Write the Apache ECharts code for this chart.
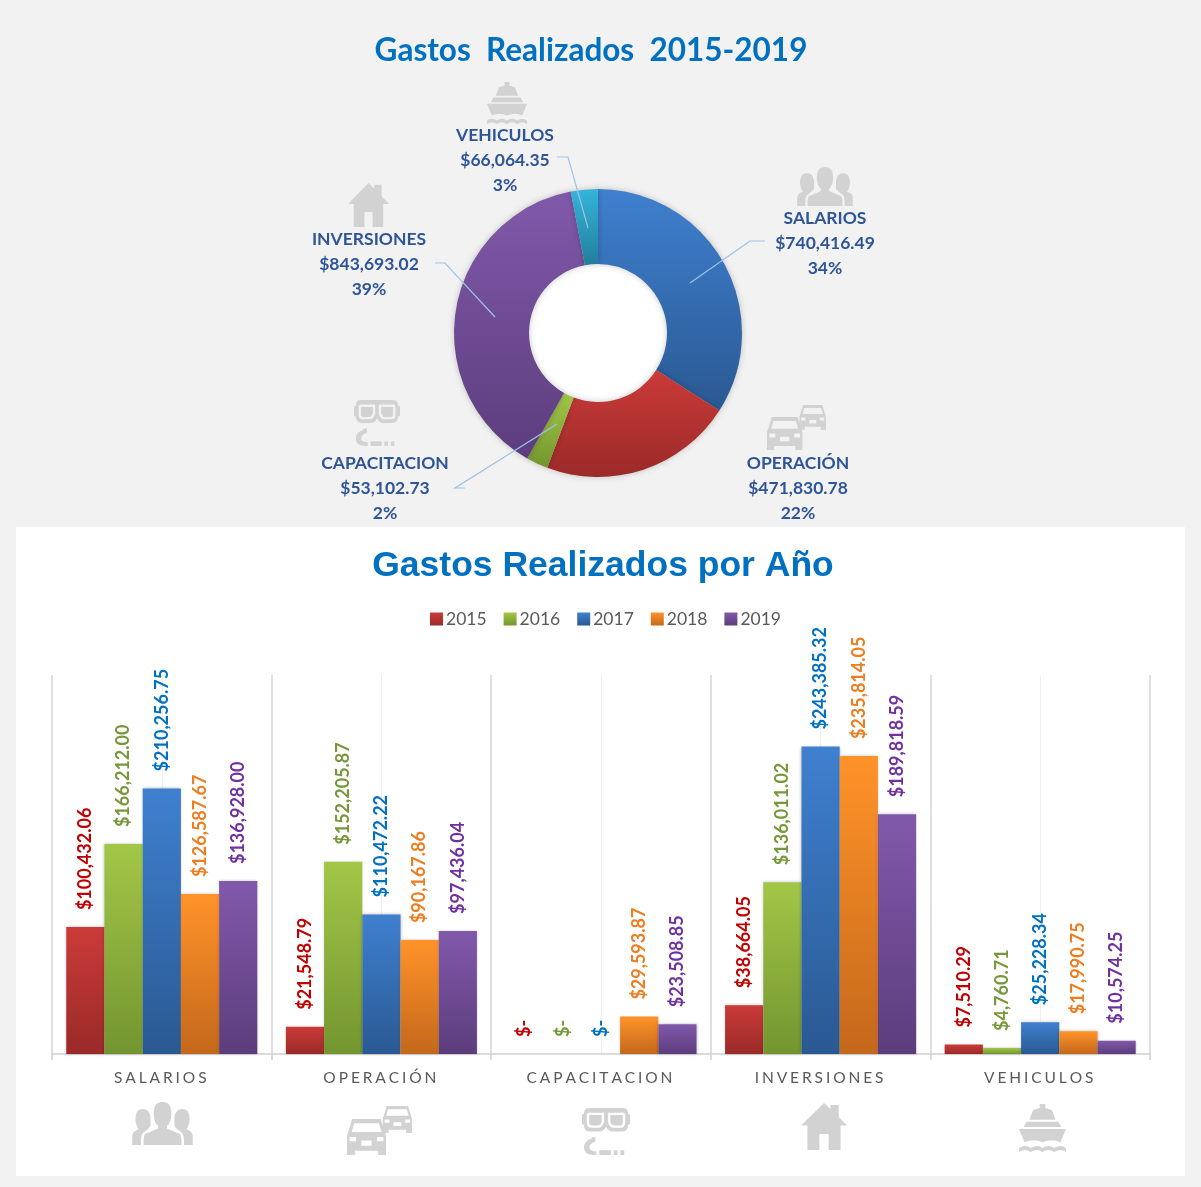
<!DOCTYPE html>
<html><head><meta charset="utf-8">
<style>html,body{margin:0;padding:0;background:#f2f2f2}#c{width:1201px;height:1187px}</style>
<script src="https://cdn.jsdelivr.net/npm/echarts@6/dist/echarts.min.js"></script>
</head><body><div id="c"></div>
<script>
const categories = ['SALARIOS','OPERACIÓN','CAPACITACION','INVERSIONES','VEHICULOS'];
const years = ['2015','2016','2017','2018','2019'];
const v2015 = [100432.06, 21548.79, 0, 38664.05, 7510.29];
const v2016 = [166212.00, 152205.87, 0, 136011.02, 4760.71];
const v2017 = [210256.75, 110472.22, 0, 243385.32, 25228.34];
const v2018 = [126587.67, 90167.86, 29593.87, 235814.05, 17990.75];
const v2019 = [136928.00, 97436.04, 23508.85, 189818.59, 10574.25];
const totals = [740416.49, 471830.78, 53102.73, 843693.02, 66064.35];

const grad = (a, b) => new echarts.graphic.LinearGradient(0, 0, 0, 1, [{offset: 0, color: a}, {offset: 1, color: b}]);
const yearFill = [['#cb3b39','#9a2a28'],['#a2c747','#739530'],['#3f80cf','#2a5992'],['#ff9329','#c4681c'],['#8159ab','#5c3d7c']];
const labelInk = ['#c00000','#76983a','#0070c0','#ed7d1e','#7030a0'];
const pieFill = [['#3f80cf','#2a5992'],['#cb3b39','#9a2a28'],['#a2c747','#739530'],['#8159ab','#5c3d7c'],['#35b4da','#217f9b']];
const money = v => v.toLocaleString('en-US', {minimumFractionDigits: 2, maximumFractionDigits: 2});
const spaced = s => s.split('').join('\u2009\u200A');

// Silhouette icons
const car = (dx, dy, s) => {
  const p = (x, y) => (dx + x * s).toFixed(1) + ' ' + (dy + y * s).toFixed(1);
  return `M${p(8,0)}L${p(52,0)}L${p(58,18)}Q${p(60,20)} ${p(60,26)}L${p(60,50)}L${p(48,50)}L${p(48,44)}L${p(12,44)}L${p(12,50)}L${p(0,50)}L${p(0,26)}Q${p(0,20)} ${p(2,18)}Z` +
    `M${p(11,6)}L${p(7,18)}L${p(53,18)}L${p(49,6)}Z M${p(4,25)}L${p(4,31)}L${p(14,31)}L${p(14,25)}Z M${p(46,25)}L${p(46,31)}L${p(56,31)}L${p(56,25)}Z M${p(22,30)}L${p(22,37)}L${p(38,37)}L${p(38,30)}Z`;
};
const iconPaths = {
  people: 'M2 68L2 54Q2 46 12 43Q7 36 7 26Q7 11 19 11Q29 11 31 24L31 38L28 42L19 49Q16 52 16 60L16 68Z' +
    'M98 68L84 68L84 60Q84 52 81 49L72 42L69 38L69 24Q71 11 81 11Q93 11 93 26Q93 36 88 43Q98 46 98 54Z' +
    'M50 0Q64 0 64 18Q64 32 57 38L57 42L76 50Q80 52 80 60L80 68L20 68L20 60Q20 52 24 50L43 42L43 38Q36 32 36 18Q36 0 50 0Z',
  cars: car(55, 0, 0.75) + car(0, 18, 1.0),
  goggles: 'M15 0L85 0Q96 0 96 12L100 14L100 34L96 36Q96 50 82 50L62 50Q56 50 50 40Q44 50 38 50L18 50Q4 50 4 36L0 34L0 14L4 12Q4 0 15 0Z' +
    'M14 10Q10 10 10 16L10 32Q10 42 20 42L36 42Q42 42 46 30L46 10Z M54 10L54 30Q58 42 64 42L80 42Q90 42 90 32L90 16Q90 10 86 10Z' +
    'M15 15L41 15L41 29Q38 37 34 37L21 37Q15 37 15 31Z M59 15L85 15L85 31Q85 37 79 37L66 37Q62 37 59 29Z' +
    'M20 62L28 62L28 72Q14 76 16 86Q18 92 30 92L30 100L22 100Q4 98 4 84Q4 70 20 65Z M36 90L60 90L60 100L36 100Z M66 90L74 90L74 100L66 100Z M80 90L88 90L88 100L80 100Z',
  house: 'M50 0L64 13L64 4L82 4L82 30L100 48L86 48L86 100L60 100L60 66L40 66L40 100L14 100L14 48L0 48Z',
  ship: 'M44 0L56 0L56 8L70 12L78 32L22 32L30 12L44 8Z M16 36L84 36L90 47L10 47Z M0 51L100 51L88 78Q70 70 50 78Q30 70 12 78Z' +
    'M0 90Q12 82 25 90Q37 82 50 90Q62 82 75 90Q88 82 100 90L100 98Q88 90 75 98Q62 90 50 98Q37 90 25 98Q12 90 0 98Z'
};
const iconBox = {people: [100, 68], cars: [100, 68], goggles: [100, 100], house: [100, 100], ship: [100, 98]};
Object.keys(iconPaths).forEach(k => echarts.graphic.registerShape('icon-' + k, echarts.graphic.extendPath(iconPaths[k], {})));
const icon = (name, x, y, width, height) => ({
  type: 'icon-' + name, z: 1, x, y, scaleX: width / iconBox[name][0], scaleY: height / iconBox[name][1],
  style: {fill: '#d2d2d2'}
});
const leader = points => ({
  type: 'polyline', z: 20, shape: {points}, style: {fill: null, stroke: '#9dc3e6', lineWidth: 1.2}
});

const pieLabelSpots = [
  {x: 825, y: 243},
  {x: 798, y: 488},
  {x: 385, y: 488},
  {x: 369, y: 264},
  {x: 505, y: 160}
];

const columns = [v2015, v2016, v2017, v2018, v2019];
const barSeries = years.map((y, i) => ({
  type: 'bar', name: y, data: columns[i], barGap: 0, barCategoryGap: '13%', xAxisIndex: 0, yAxisIndex: 0,
  itemStyle: {color: grad(yearFill[i][0], yearFill[i][1]), shadowBlur: 3, shadowColor: 'rgba(0,0,0,0.25)'},
  label: {
    show: true, position: 'top', rotate: 90, align: 'left', verticalAlign: 'middle', distance: 16, offset: [1, 0],
    color: labelInk[i], fontFamily: 'Lato', fontWeight: 'bold', fontSize: 18,
    formatter: p => p.value === 0 ? '$-' : '$' + money(p.value)
  }
}));

const chart = echarts.init(document.getElementById('c'), null, {renderer: 'canvas'});
chart.setOption({
  animation: false,
  backgroundColor: '#f2f2f2',
  title: [
    {text: 'Gastos  Realizados  2015-2019', left: 586, top: 30, textAlign: 'center',
      textStyle: {color: '#0070c0', fontFamily: 'Lato', fontWeight: 'bold', fontSize: 31.5}},
    {text: 'Gastos Realizados por Año', left: 598, top: 543, textAlign: 'center',
      textStyle: {color: '#0070c0', fontFamily: 'Liberation Sans', fontWeight: 'bold', fontSize: 35.5}}
  ],
  legend: {
    data: years, icon: 'rect', left: 425, top: 605, itemWidth: 13, itemHeight: 13, itemGap: 17,
    textStyle: {color: '#595959', fontFamily: 'Lato', fontSize: 17.5, padding: [0, 0, 0, -2]}
  },
  grid: {left: 52, right: 51, top: 675, bottom: 133, containLabel: false},
  xAxis: [
    {type: 'category', data: categories, position: 'bottom',
      axisLine: {lineStyle: {color: '#d0d0d0', width: 1.5}},
      axisTick: {show: true, length: 6, lineStyle: {color: '#d0d0d0', width: 1.5}},
      splitLine: {show: true, lineStyle: {color: '#d4d4d4', width: 1.5}},
      axisLabel: {margin: 16, color: '#595959', fontFamily: 'Lato', fontSize: 15.5, formatter: spaced, padding: [0, 3, 0, 0]}},
    {type: 'category', data: categories, position: 'bottom', axisLine: {show: false}, axisTick: {show: false}, axisLabel: {show: false},
      splitLine: {show: true, alignWithLabel: true, lineStyle: {color: '#efefef', width: 1}}}
  ],
  yAxis: {type: 'value', min: 0, max: 300000, interval: 100000, show: false, splitLine: {show: false}},
  series: [
    {type: 'pie', center: [598, 333], radius: [69, 144], startAngle: 90, clockwise: true, percentPrecision: 0, z: 5,
      data: categories.map((c, i) => ({name: c, value: totals[i], itemStyle: {color: grad(pieFill[i][0], pieFill[i][1])}})),
      itemStyle: {shadowBlur: 6, shadowColor: 'rgba(0,0,0,0.22)'},
      label: {show: true, position: 'outside', color: '#2f5597', fontFamily: 'Lato', fontWeight: 'bold', fontSize: 17.5, lineHeight: 25, align: 'center',
        formatter: p => p.name + '\n$' + money(p.value) + '\n' + Math.round(p.percent) + '%'},
      labelLine: {show: false},
      labelLayout: p => {
        const s = pieLabelSpots[p.dataIndex];
        return {x: s.x, y: s.y, align: 'center', verticalAlign: 'middle'};
      }
    },
    ...barSeries
  ],
  graphic: {elements: [
    {type: 'rect', z: -10, shape: {x: 16, y: 527, width: 1169, height: 649}, style: {fill: '#ffffff'}},
    {type: 'circle', z: -10, shape: {cx: 598, cy: 333, r: 70}, style: {fill: '#ffffff'}},
    leader([[765,241],[750,241],[690,283]]),
    leader([[465,488],[455,488],[557,424]]),
    leader([[435,263],[445,263],[495,317]]),
    leader([[557,157],[568,157],[588,228]]),
    icon('ship', 487, 82, 40, 42),
    icon('people', 796, 167, 58, 39),
    icon('house', 348, 183, 41, 44),
    icon('goggles', 354, 400, 46, 46),
    icon('cars', 767, 405, 59, 45),
    icon('people', 131, 1102, 63, 43),
    icon('cars', 347, 1106, 65, 49),
    icon('goggles', 582, 1108, 48, 47),
    icon('house', 801, 1103, 46, 47),
    icon('ship', 1019, 1104, 47, 48)
  ]}
});
</script></body></html>
